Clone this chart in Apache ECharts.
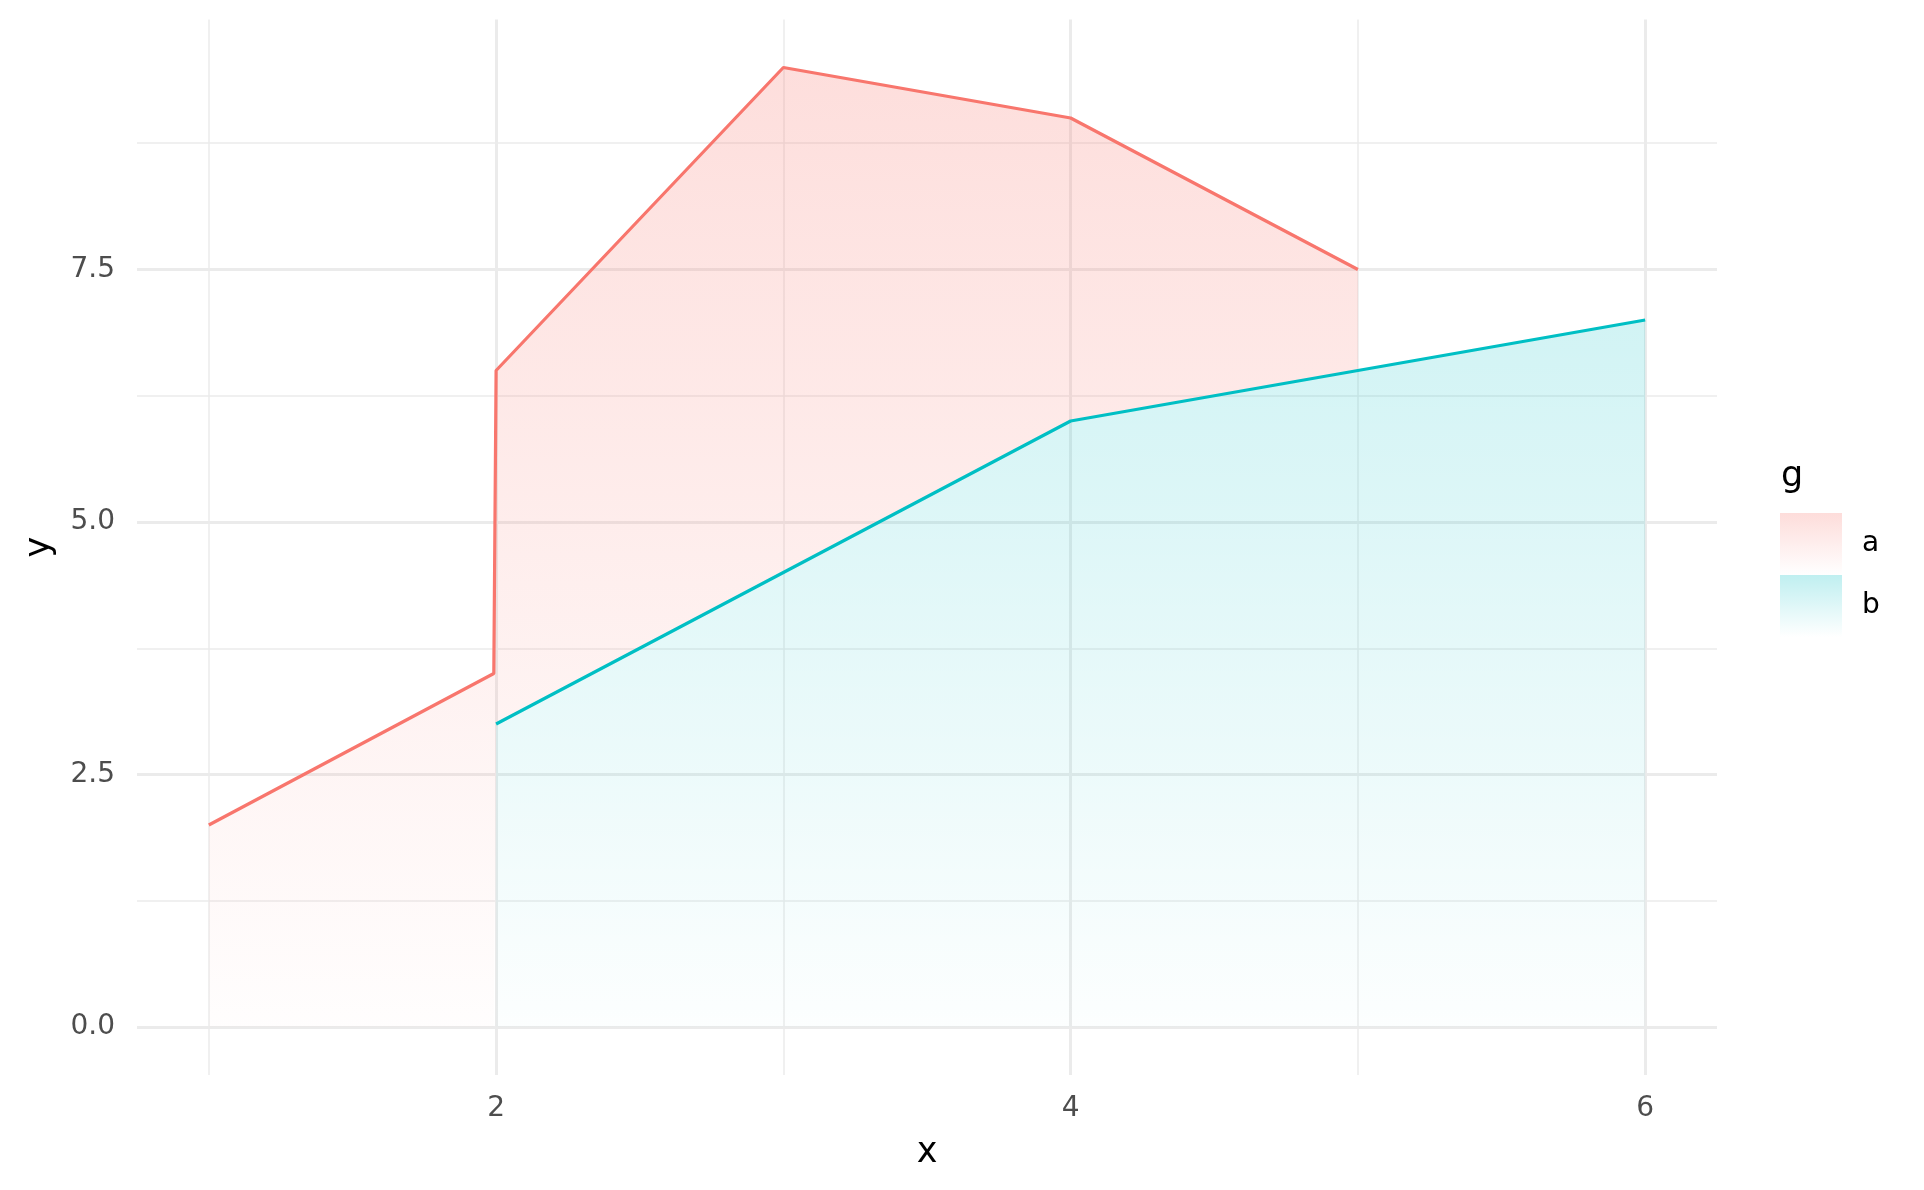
<!DOCTYPE html>
<html><head><meta charset="utf-8">
<script src="https://cdn.jsdelivr.net/npm/echarts@6/dist/echarts.min.js"></script>
<style>html,body{margin:0;padding:0;background:#fff}#c{width:1924px;height:1190px}</style>
</head><body><div id="c"></div>
<script>
// ---- data ----
const aX = [1, 2, 3, 4, 5];
const aTop = [2, 6.5, 9.5, 9, 7.5];      // upper edge of group a (stacked on b)
const aBeforeJump = 3.5;                  // a's edge just left of x = 2, before b begins
const bX = [2, 3, 4, 5, 6];
const bY = [3, 4.5, 6, 6.5, 7];
const xMajor = [2, 4, 6];
const xMinor = [1, 3, 5];
const yMajor = [0, 2.5, 5, 7.5];
const yMinor = [1.25, 3.75, 6.25, 8.75];
const legendNames = ['a', 'b'];

// ---- styling / layout ----
const W = 1924, H = 1190;
const GRID = {left: 137, right: 207, top: 19.5, bottom: 115};
const EPS = 0.008;
const colA = [248, 118, 109], colB = [0, 191, 196];
const FONT = 'DejaVu Sans';
const rgba = (c, a) => `rgba(${c[0]},${c[1]},${c[2]},${a})`;
const panelGrad = c => new echarts.graphic.LinearGradient(0, GRID.top, 0, H - GRID.bottom,
  [{offset: 0, color: rgba(c, 0.25)}, {offset: 1, color: rgba(c, 0)}], true);
const keyGrad = c => new echarts.graphic.LinearGradient(0, 0, 0, 1,
  [{offset: 0, color: rgba(c, 0.25)}, {offset: 1, color: rgba(c, 0)}]);

function bAt(x) { const i = bX.indexOf(x); return i < 0 ? 0 : bY[i]; }

const ribbonA = [], lineA = [];
aX.forEach((x, i) => {
  if (i > 0 && bX.indexOf(x) >= 0 && bX.indexOf(aX[i - 1]) < 0) {
    ribbonA.push([x - EPS, 0, aBeforeJump]);
    lineA.push([x - EPS, aBeforeJump]);
  }
  ribbonA.push([x, bAt(x), aTop[i]]);
  lineA.push([x, aTop[i]]);
});
const ribbonB = bX.map((x, i) => [x, 0, bY[i]]);
const lineB = bX.map((x, i) => [x, bY[i]]);

function ribbonRender(rows, fill) {
  return function (params, api) {
    if (params.dataIndex !== 0) return null;
    const top = rows.map(r => api.coord([r[0], r[2]]));
    const bot = rows.slice().reverse().map(r => api.coord([r[0], r[1]]));
    return {type: 'polygon', silent: true, shape: {points: top.concat(bot)},
      style: {fill: fill, stroke: null}};
  };
}

const near = (arr, v) => arr.find(m => Math.abs(m - v) < 1e-6);

const gridLines = [
  ...xMajor.map(v => ({xAxis: v, lineStyle: {color: '#EBEBEB', width: 3, type: 'solid'}})),
  ...xMinor.map(v => ({xAxis: v, lineStyle: {color: '#EBEBEB', width: 1.5, type: 'solid'}})),
  ...yMajor.map(v => ({yAxis: v, lineStyle: {color: '#EBEBEB', width: 3, type: 'solid'}})),
  ...yMinor.map(v => ({yAxis: v, lineStyle: {color: '#EBEBEB', width: 1.5, type: 'solid'}}))
];

const chart = echarts.init(document.getElementById('c'), null, {renderer: 'canvas'});
chart.setOption({
  animation: false,
  backgroundColor: '#fff',
  grid: {left: GRID.left, right: GRID.right, top: GRID.top, bottom: GRID.bottom, containLabel: false},
  title: {text: 'g', left: 1781, top: 459, padding: 0,
    textStyle: {fontSize: 35, fontWeight: 'normal', color: '#000', fontFamily: FONT}},
  legend: {
    orient: 'vertical', left: 1780, top: 513, padding: 0, itemGap: 0,
    itemWidth: 62, itemHeight: 62, icon: 'rect', selectedMode: false,
    data: legendNames.map((n, i) => ({name: n,
      itemStyle: {color: keyGrad(i === 0 ? colA : colB), borderWidth: 0}})),
    textStyle: {fontSize: 28, color: '#000', fontFamily: FONT, padding: [0, 0, 0, 15]}
  },
  xAxis: {
    type: 'value', min: 0.75, max: 6.25, interval: 0.25,
    axisLine: {show: false}, axisTick: {show: false}, splitLine: {show: false},
    axisLabel: {fontSize: 28, color: '#4D4D4D', fontFamily: FONT, margin: 20,
      formatter: v => { const m = near(xMajor, v); return m === undefined ? '' : String(m); }},
    name: 'x', nameLocation: 'middle', nameGap: 60,
    nameTextStyle: {fontSize: 35, color: '#000', fontFamily: FONT}
  },
  yAxis: {
    type: 'value', min: -0.475, max: 9.975, interval: 0.025,
    axisLine: {show: false}, axisTick: {show: false}, splitLine: {show: false},
    axisLabel: {fontSize: 28, color: '#4D4D4D', fontFamily: FONT, margin: 22,
      formatter: v => { const m = near(yMajor, v); return m === undefined ? '' : m.toFixed(1); }},
    name: 'y', nameLocation: 'middle', nameGap: 80,
    nameTextStyle: {fontSize: 35, color: '#000', fontFamily: FONT}
  },
  series: [
    {type: 'line', name: '_grid', data: [], z: 0, silent: true,
      markLine: {z: 0, symbol: ['none', 'none'], silent: true, label: {show: false},
        emphasis: {disabled: true}, data: gridLines}},
    {type: 'custom', name: 'a', data: ribbonA, z: 2, encode: {x: 0, y: [1, 2]},
      itemStyle: {color: rgba(colA, 0.25)}, renderItem: ribbonRender(ribbonA, panelGrad(colA))},
    {type: 'custom', name: 'b', data: ribbonB, z: 2, encode: {x: 0, y: [1, 2]},
      itemStyle: {color: rgba(colB, 0.25)}, renderItem: ribbonRender(ribbonB, panelGrad(colB))},
    {type: 'line', name: 'a_line', data: lineA, z: 3, symbol: 'none', silent: true,
      lineStyle: {color: rgba(colA, 1), width: 3.2}, emphasis: {disabled: true}},
    {type: 'line', name: 'b_line', data: lineB, z: 3, symbol: 'none', silent: true,
      lineStyle: {color: rgba(colB, 1), width: 3.2}, emphasis: {disabled: true}}
  ]
});
</script>
</body></html>
